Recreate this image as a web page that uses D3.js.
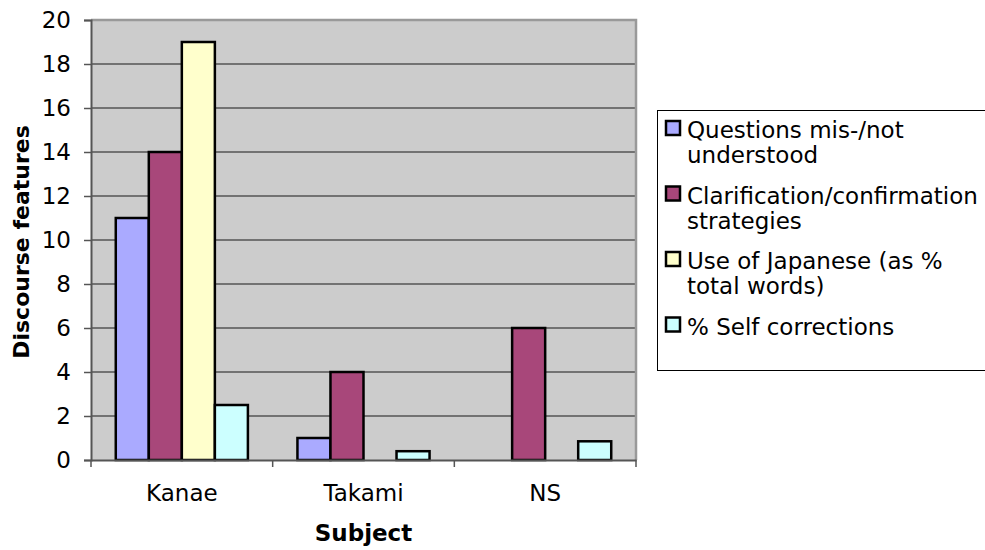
<!DOCTYPE html>
<html>
<head>
<meta charset="utf-8">
<script src="https://cdn.jsdelivr.net/npm/d3@7"></script>
<style>
  html, body { margin: 0; padding: 0; background: #ffffff; }
  svg { display: block; font-family: Verdana, "DejaVu Sans", sans-serif; }
</style>
</head>
<body>
<svg id="chart" width="985" height="550"></svg>
<script>
// Subjects on the x axis
const subjects = ["Kanae", "Takami", "NS"];

// Series names (legend lines) and colours
const seriesNames = [
  ["Questions mis-/not", "understood"],
  ["Clarification/confirmation", "strategies"],
  ["Use of Japanese (as %", "total words)"],
  ["% Self corrections"]
];
const seriesColors = ["#aaaaff", "#a8477a", "#ffffcc", "#ccffff"];

// Values per series, in subject order
const questionsMisunderstood = [11, 1, 0];
const clarificationStrategies = [14, 4, 6];
const useOfJapanese = [19, 0, 0];
const selfCorrections = [2.5, 0.4, 0.85];
const seriesValues = [questionsMisunderstood, clarificationStrategies, useOfJapanese, selfCorrections];

const yTicks = [0, 2, 4, 6, 8, 10, 12, 14, 16, 18, 20];

const FONT = 23;
const svg = d3.select("#chart");
const plot = { left: 91, right: 636, top: 20, bottom: 460 };

const x = d3.scaleBand().domain(subjects).range([plot.left, plot.right]).paddingInner(0).paddingOuter(0);
const y = d3.scaleLinear().domain([0, 20]).range([plot.bottom, plot.top]);
const bw = x.bandwidth() / (seriesValues.length + 1.5);
const xs = d3.scaleBand().domain(d3.range(seriesValues.length))
  .range([bw * 0.75, bw * 0.75 + bw * seriesValues.length]);

// plot background
svg.append("rect")
  .attr("x", plot.left).attr("y", plot.top)
  .attr("width", plot.right - plot.left).attr("height", plot.bottom - plot.top)
  .attr("fill", "#cccccc");

// gridlines
svg.append("g").selectAll("line").data(yTicks.filter(d => d > 0)).join("line")
  .attr("x1", plot.left).attr("x2", plot.right)
  .attr("y1", d => y(d)).attr("y2", d => y(d))
  .attr("stroke", "#555555").attr("stroke-width", 1.5);

// plot frame (top and right)
svg.append("path")
  .attr("d", `M${plot.left},${plot.top}H${plot.right}V${plot.bottom}`)
  .attr("fill", "none").attr("stroke", "#999999").attr("stroke-width", 2.5);

// bars
const bars = [];
seriesValues.forEach((vals, si) => {
  vals.forEach((v, ci) => { if (v > 0) bars.push({ si, ci, v }); });
});
svg.append("g").selectAll("rect").data(bars).join("rect")
  .attr("x", d => x(subjects[d.ci]) + xs(d.si))
  .attr("y", d => y(d.v))
  .attr("width", xs.bandwidth())
  .attr("height", d => y(0) - y(d.v))
  .attr("fill", d => seriesColors[d.si])
  .attr("stroke", "#000000").attr("stroke-width", 2.5);

// y axis
const yAxis = svg.append("g").attr("transform", `translate(${plot.left},0)`)
  .call(d3.axisLeft(y).tickValues(yTicks).tickSize(7).tickPadding(13).tickFormat(d3.format("d")));
yAxis.select(".domain").attr("stroke", "#555555").attr("stroke-width", 2);
yAxis.selectAll(".tick line").attr("stroke", "#555555").attr("stroke-width", 1.5);
yAxis.selectAll(".tick text").attr("font-size", FONT).attr("fill", "#000").attr("font-family", "Verdana, 'DejaVu Sans', sans-serif");

// x axis
const xAxis = svg.append("g").attr("transform", `translate(0,${plot.bottom})`)
  .call(d3.axisBottom(x).tickSize(0).tickPadding(25));
xAxis.select(".domain").attr("stroke", "#555555").attr("stroke-width", 2);
xAxis.selectAll(".tick text").attr("font-size", FONT).attr("fill", "#000").attr("font-family", "Verdana, 'DejaVu Sans', sans-serif");
// category separators
const sepPos = subjects.map(s => x(s)).concat([plot.right]);
svg.append("g").selectAll("line").data(sepPos).join("line")
  .attr("x1", d => d).attr("x2", d => d)
  .attr("y1", plot.bottom).attr("y2", plot.bottom + 7)
  .attr("stroke", "#555555").attr("stroke-width", 1.5);

// axis titles
svg.append("text")
  .attr("x", (plot.left + plot.right) / 2).attr("y", 541)
  .attr("text-anchor", "middle").attr("font-size", FONT).attr("font-weight", "bold")
  .text("Subject");
svg.append("text")
  .attr("transform", `translate(29,${(plot.top + plot.bottom) / 2 + 2}) rotate(-90)`)
  .attr("text-anchor", "middle").attr("font-size", 22).attr("font-weight", "bold")
  .text("Discourse features");

// legend
const legend = svg.append("g");
legend.append("rect")
  .attr("x", 657.5).attr("y", 110.5).attr("width", 360).attr("height", 260)
  .attr("fill", "#ffffff").attr("stroke", "#000000").attr("stroke-width", 1);
const item = legend.selectAll("g.item").data(seriesNames).join("g")
  .attr("transform", (d, i) => `translate(665,${138 + i * 65.5})`);
item.append("rect")
  .attr("x", 1).attr("y", -17).attr("width", 14).attr("height", 14)
  .attr("fill", (d, i) => seriesColors[i]).attr("stroke", "#000").attr("stroke-width", 2.5);
item.each(function (lines) {
  const t = d3.select(this).append("text").attr("x", 22).attr("y", 0).attr("font-size", FONT);
  lines.forEach((ln, k) => t.append("tspan").attr("x", 22).attr("dy", k === 0 ? 0 : 25).text(ln));
});
</script>
</body>
</html>
